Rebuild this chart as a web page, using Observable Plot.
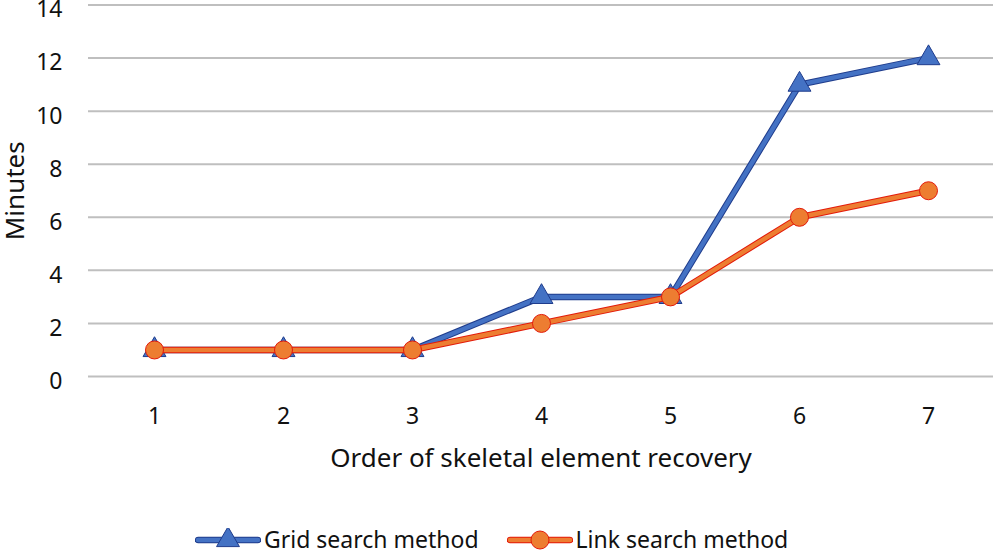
<!DOCTYPE html>
<html>
<head>
<meta charset="utf-8">
<script src="https://cdn.jsdelivr.net/npm/d3@7"></script>
<script src="https://cdn.jsdelivr.net/npm/@observablehq/plot@0.6"></script>
<style>
  html, body { margin: 0; padding: 0; background: #fff; }
  body { width: 993px; height: 550px; position: relative; overflow: hidden; font-family: "Noto Sans", "Open Sans", sans-serif; }
  #legend { position: absolute; left: 195px; top: 528px; height: 22px; display: flex; align-items: center; font-size: 23px; color: #111; line-height: 22px; }
  #legend .item { display: flex; align-items: center; margin-right: 28px; height: 22px; }
  #legend svg { margin-right: 3px; }
</style>
</head>
<body>
<div id="chart"></div>
<div id="legend"></div>
<script>
const order = [1, 2, 3, 4, 5, 6, 7];
const gridSearch = [1, 1, 1, 3, 3, 11, 12];
const linkSearch = [1, 1, 1, 2, 3, 6, 7];
const yTicks = [0, 2, 4, 6, 8, 10, 12, 14];
const seriesNames = ["Grid search method", "Link search method"];

const blue = "#4472C4", blueEdge = "#1F3C8C";
const orange = "#ED7D31", orangeEdge = "#E31A0A";

const grid = order.map((o, i) => ({order: o, minutes: gridSearch[i]}));
const link = order.map((o, i) => ({order: o, minutes: linkSearch[i]}));

const plot = Plot.plot({
  width: 993,
  height: 490,
  marginLeft: 88,
  marginRight: 0,
  marginTop: 4.5,
  marginBottom: 114,
  style: {fontFamily: "'Noto Sans', 'Open Sans', sans-serif", fontSize: "23px", color: "#111", background: "#fff", overflow: "visible"},
  x: {type: "point", domain: order, padding: 0.5},
  y: {domain: [0, 14]},
  marks: [
    Plot.ruleY(yTicks, {stroke: "#bfbfbf", strokeWidth: 2}),
    Plot.axisY(yTicks, {tickSize: 0, tickPadding: 0, dx: -26, dy: 5, label: null, fontSize: 23, textAnchor: "end"}),
    Plot.axisX(order, {tickSize: 0, tickPadding: 31, label: null, fontSize: 23}),
    Plot.text(["Minutes"], {frameAnchor: "left", dx: -73, rotate: -90, fontSize: 26, textAnchor: "middle", fill: "#111"}),
    Plot.text(["Order of skeletal element recovery"], {frameAnchor: "bottom", dy: 90, fontSize: 26, textAnchor: "middle", fill: "#111"}),
    Plot.line(grid, {x: "order", y: "minutes", stroke: blueEdge, strokeWidth: 6.5}),
    Plot.line(grid, {x: "order", y: "minutes", stroke: blue, strokeWidth: 4.5}),
    Plot.dot(grid, {x: "order", y: "minutes", symbol: "triangle", r: 8.5, fill: blue, stroke: blueEdge, strokeWidth: 1}),
    Plot.line(link, {x: "order", y: "minutes", stroke: orangeEdge, strokeWidth: 6.5}),
    Plot.line(link, {x: "order", y: "minutes", stroke: orange, strokeWidth: 4.5}),
    Plot.dot(link, {x: "order", y: "minutes", symbol: "circle", r: 9, fill: orange, stroke: orangeEdge, strokeWidth: 1})
  ]
});
document.getElementById("chart").appendChild(plot);

const legend = document.getElementById("legend");
const swatches = [
  {name: seriesNames[0], color: blue, edge: blueEdge, shape: "triangle"},
  {name: seriesNames[1], color: orange, edge: orangeEdge, shape: "circle"}
];
swatches.forEach(s => {
  const item = document.createElement("div");
  item.className = "item";
  const ns = "http://www.w3.org/2000/svg";
  const svg = document.createElementNS(ns, "svg");
  svg.setAttribute("width", 66); svg.setAttribute("height", 22);
  const l1 = document.createElementNS(ns, "line");
  l1.setAttribute("x1", 3); l1.setAttribute("x2", 63); l1.setAttribute("y1", 12); l1.setAttribute("y2", 12);
  l1.setAttribute("stroke", s.edge); l1.setAttribute("stroke-width", 6.5); l1.setAttribute("stroke-linecap", "round");
  const l2 = l1.cloneNode();
  l2.setAttribute("stroke", s.color); l2.setAttribute("stroke-width", 4.5);
  svg.appendChild(l1); svg.appendChild(l2);
  const p = document.createElementNS(ns, "path");
  const sym = s.shape === "triangle" ? d3.symbolTriangle : d3.symbolCircle;
  p.setAttribute("d", d3.symbol(sym, Math.PI * (s.shape === "triangle" ? 8.5 : 9) ** 2)());
  p.setAttribute("transform", "translate(33,12)");
  p.setAttribute("fill", s.color); p.setAttribute("stroke", s.edge);
  svg.appendChild(p);
  item.appendChild(svg);
  const t = document.createElement("span");
  t.textContent = s.name;
  item.appendChild(t);
  legend.appendChild(item);
});
</script>
</body>
</html>
